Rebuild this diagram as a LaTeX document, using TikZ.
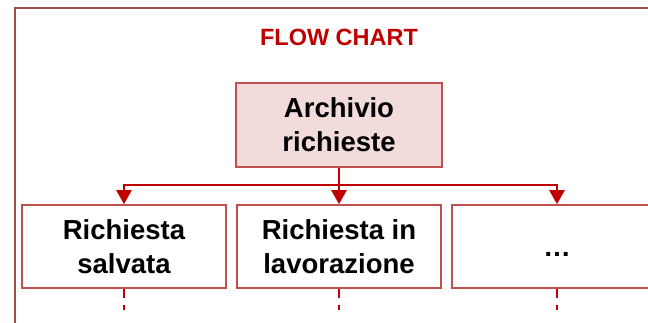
\documentclass[tikz,border=0pt]{standalone}
\usepackage{fontspec}
\setmainfont{Liberation Sans}
\usetikzlibrary{arrows.meta}

\definecolor{frame}{HTML}{A5494A}
\definecolor{boxline}{HTML}{C0504D}
\definecolor{boxfill}{HTML}{F2DCDB}
\definecolor{darkred}{HTML}{C00000}

\begin{document}
\begin{tikzpicture}[x=1pt, y=-1pt,
    box/.style={draw=boxline, line width=1.6pt, minimum width=204pt, minimum height=83pt,
        align=center, inner sep=0pt, font=\fontsize{27.5}{34}\selectfont\bfseries},
    link/.style={draw=darkred, line width=2.6pt},
    arrow/.style={link, -{Triangle[width=15pt,length=14pt]}},
    trail/.style={draw=darkred, line width=2.8pt, dash pattern=on 9pt off 7pt on 5pt off 30pt}]
    \useasboundingbox (0,0) rectangle (648,323);
    \clip (0,0) rectangle (648,323);
    \draw [frame, line width=2pt] (14.5,8.5) rectangle (680,360);
    \node (title) at (339,37) [text=darkred, font=\fontsize{23.5}{28}\selectfont\bfseries] {FLOW CHART};
    \node (arch) at (339,125) [box, fill=boxfill, minimum width=206pt, minimum height=84pt] {Archivio\\richieste};
    \node (s1) at (124,246.5) [box] {Richiesta\\salvata};
    \node (s2) at (339,246.5) [box] {Richiesta in\\lavorazione};
    \node (s3) at (557,246.5) [box, minimum width=210pt] {\smash{\raisebox{-10pt}{\dots}}};
    \coordinate (split) at (339,185);
    \draw [link] (arch.south) -- (split);
    \draw [arrow] (split) -| (s1.north);
    \draw [arrow] (split) -- (s2.north);
    \draw [arrow] (split) -| (s3.north);
    \foreach \s in {s1,s2,s3} {
        \coordinate (\s end) at ([yshift=-30pt]\s.south);
        \draw [trail] ([yshift=-0.5pt]\s.south) -- (\s end);
    }
\end{tikzpicture}
\end{document}
